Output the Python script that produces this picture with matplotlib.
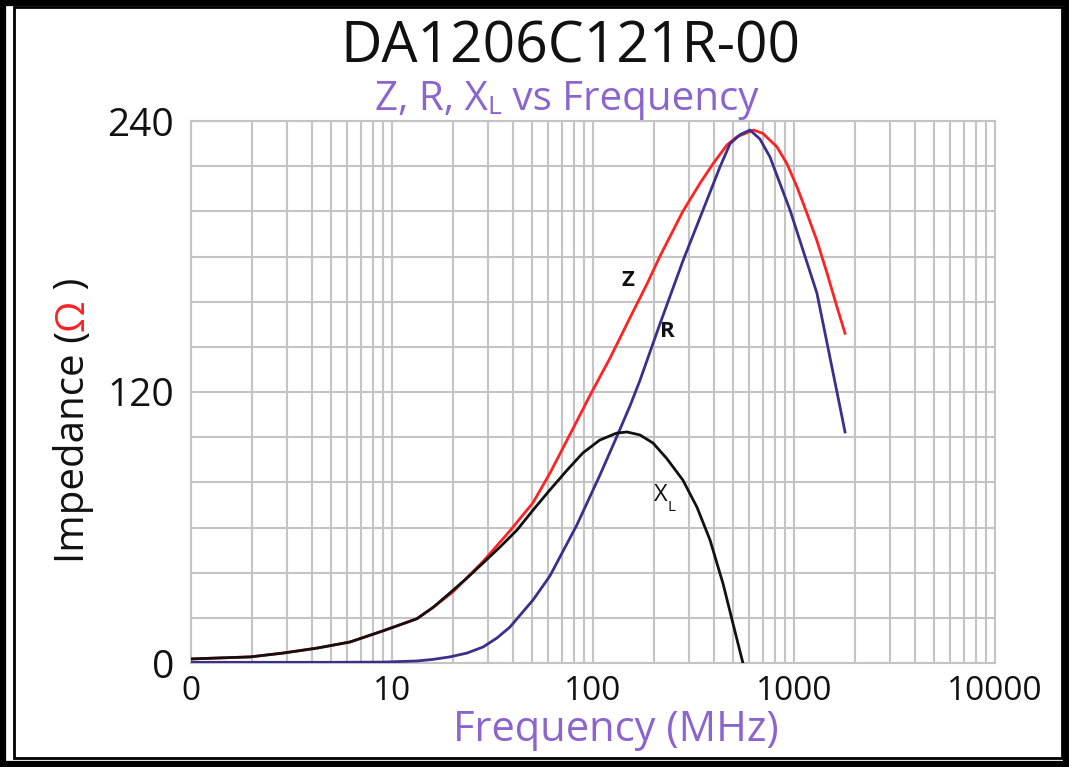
"""Impedance vs frequency chart for a ferrite chip bead (Z, R, XL)."""

import matplotlib

matplotlib.use("Agg")
import matplotlib.pyplot as plt  # noqa: E402
from matplotlib.patches import Rectangle  # noqa: E402
from matplotlib.ticker import FixedLocator, NullFormatter  # noqa: E402

# values (frequency in MHz, impedance in ohm)
z_freq = [1, 1.97, 2.87, 4.24, 6.18, 9, 13.3, 16, 20.1, 28.4, 38.6, 50.3, 61, 83,
          96.6, 121.5, 153, 186, 215, 280, 341, 395, 464, 520, 630, 700, 823, 923,
          1035, 1161, 1300, 1459, 1637, 1794]
z_ohm = [1.8, 2.7, 4.4, 6.6, 9.3, 14.2, 19.6, 24.6, 31.5, 45, 58.5, 71, 84, 107,
         118.5, 135, 153, 168, 180, 200, 212.5, 221, 229.4, 233, 236, 234.5, 228.5,
         221, 210.8, 199, 187, 172.7, 157.6, 146]

r_freq = [1, 5, 9, 13.3, 16, 19.4, 23.6, 28.4, 33.3, 38.6, 50.3, 61, 83, 108, 131,
          153, 171, 215, 280, 369, 428, 481, 540, 604, 677, 760, 955, 1300, 1733,
          1794]
r_ohm = [0.3, 0.3, 0.4, 0.9, 1.6, 2.7, 4.4, 7.1, 11.1, 15.9, 27.9, 38.5, 61, 83,
         100, 114, 125, 150, 178, 205, 219.6, 230, 234, 236, 232, 224, 200.6, 163.8,
         109, 102.3]

xl_freq = [1, 1.97, 2.87, 4.24, 6.18, 9, 13.3, 16, 19.4, 23.6, 28.4, 34.5, 41.9,
           50.3, 61, 74.3, 89, 108, 131, 147.6, 171, 199, 233, 280, 329, 382, 444,
           497, 557]
xl_ohm = [1.8, 2.7, 4.4, 6.6, 9.3, 14.2, 19.6, 24.6, 31, 37.6, 44.3, 51.4, 58.9,
          67.7, 76.6, 85.4, 93, 98.7, 101.8, 102.3, 101, 97.4, 90.5, 81, 69, 54.5,
          35, 17.5, 0]

x_ticks = [1, 10, 100, 1000, 10000]
x_tick_labels = ["0", "10", "100", "1000", "10000"]
y_ticks = [0, 120, 240]
y_tick_labels = ["0", "120", "240"]

FONT = ["Open Sans", "DejaVu Sans"]
PURPLE = "#8b64d0"
NAVY = "#3a2f8c"
RED = "#ff2222"
GRID = "#c4c4c4"

plt.rcParams["font.family"] = FONT

W, H = 1069, 767
fig = plt.figure(figsize=(W / 100, H / 100), dpi=100)
fig.patch.set_facecolor("white")

# double frame round the whole picture
fig.patches.append(Rectangle((3 / W, 3 / H), 1 - 6 / W, 1 - 6 / H, transform=fig.transFigure,
                             fill=False, edgecolor="black", linewidth=4.5))
fig.patches.append(Rectangle((14 / W, 9 / H), 1 - 21 / W, 1 - 16 / H, transform=fig.transFigure,
                             fill=False, edgecolor="black", linewidth=2))

ax = fig.add_axes([191 / W, 104 / H, 804 / W, 542 / H])
ax.set_xscale("log")
ax.set_xlim(1, 10000)
ax.set_ylim(0, 240)

ax.plot(z_freq, z_ohm, color=RED, linewidth=2, zorder=3, solid_joinstyle="round")
ax.plot(r_freq, r_ohm, color=NAVY, linewidth=2, zorder=4, solid_joinstyle="round")
ax.plot(xl_freq, xl_ohm, color="#111111", linewidth=2, zorder=5, solid_joinstyle="round")

# grid: every decade sub-step on x, every 20 ohm on y
ax.xaxis.set_major_locator(FixedLocator(x_ticks))
ax.xaxis.set_minor_locator(FixedLocator([m * 10 ** d for d in range(4) for m in range(2, 10)]))
ax.xaxis.set_minor_formatter(NullFormatter())
ax.set_xticklabels(x_tick_labels)
ax.yaxis.set_major_locator(FixedLocator(y_ticks))
ax.yaxis.set_minor_locator(FixedLocator(list(range(20, 240, 20))))
ax.set_yticklabels(y_tick_labels)
ax.grid(which="both", axis="both", color=GRID, linewidth=1.5)
ax.set_axisbelow(True)
for side in ax.spines.values():
    side.set_color(GRID)
    side.set_linewidth(1.5)
ax.tick_params(which="both", length=0)
ax.tick_params(axis="x", labelsize=24, pad=9, labelcolor="#111111")
ax.tick_params(axis="y", labelsize=28, pad=12, labelcolor="#111111")

# curve labels
ax.text(0.544, 0.705, "Z", transform=ax.transAxes, fontsize=16, fontweight="bold",
        ha="center", va="center", color="#111111")
ax.text(0.593, 0.612, "R", transform=ax.transAxes, fontsize=16, fontweight="bold",
        ha="center", va="center", color="#111111")
xl = ax.text(0.584, 0.31, "X", transform=ax.transAxes, fontsize=17,
             ha="center", va="center", color="#111111")
ax.annotate("L", xy=(1.0, 0.3), xycoords=xl, fontsize=11, ha="left", va="top",
            color="#111111")

# titles
fig.text(570 / W, 1 - 48 / H, "DA1206C121R-00", fontsize=41, ha="center", va="center",
         color="#111111")
sub1 = fig.text(375 / W, 1 - 110 / H, "Z, R, X", fontsize=29, ha="left", va="baseline",
                color=PURPLE)
sub2 = ax.annotate("L", xy=(1, 0), xycoords=sub1, fontsize=19, ha="left", va="bottom",
                   color=PURPLE)
ax.annotate(" vs Frequency", xy=(1, 0), xycoords=sub2, fontsize=29, ha="left",
            va="bottom", color=PURPLE)

fig.text(616 / W, 1 - 730 / H, "Frequency (MHz)", fontsize=30, ha="center", va="center",
         color=PURPLE)

# y label with the red omega
y1 = fig.text(73 / W, 1 - 563 / H, "Impedance (", fontsize=29, rotation=90,
              ha="center", va="bottom", color="#111111")
y2 = ax.annotate("Ω", xy=(0.5, 1), xycoords=y1, fontsize=29, rotation=90,
                 ha="center", va="bottom", color=RED)
ax.annotate(" )", xy=(0.5, 1), xycoords=y2, fontsize=29, rotation=90,
            ha="center", va="bottom", color="#111111")

fig.savefig("out.png", dpi=100, facecolor="white")
